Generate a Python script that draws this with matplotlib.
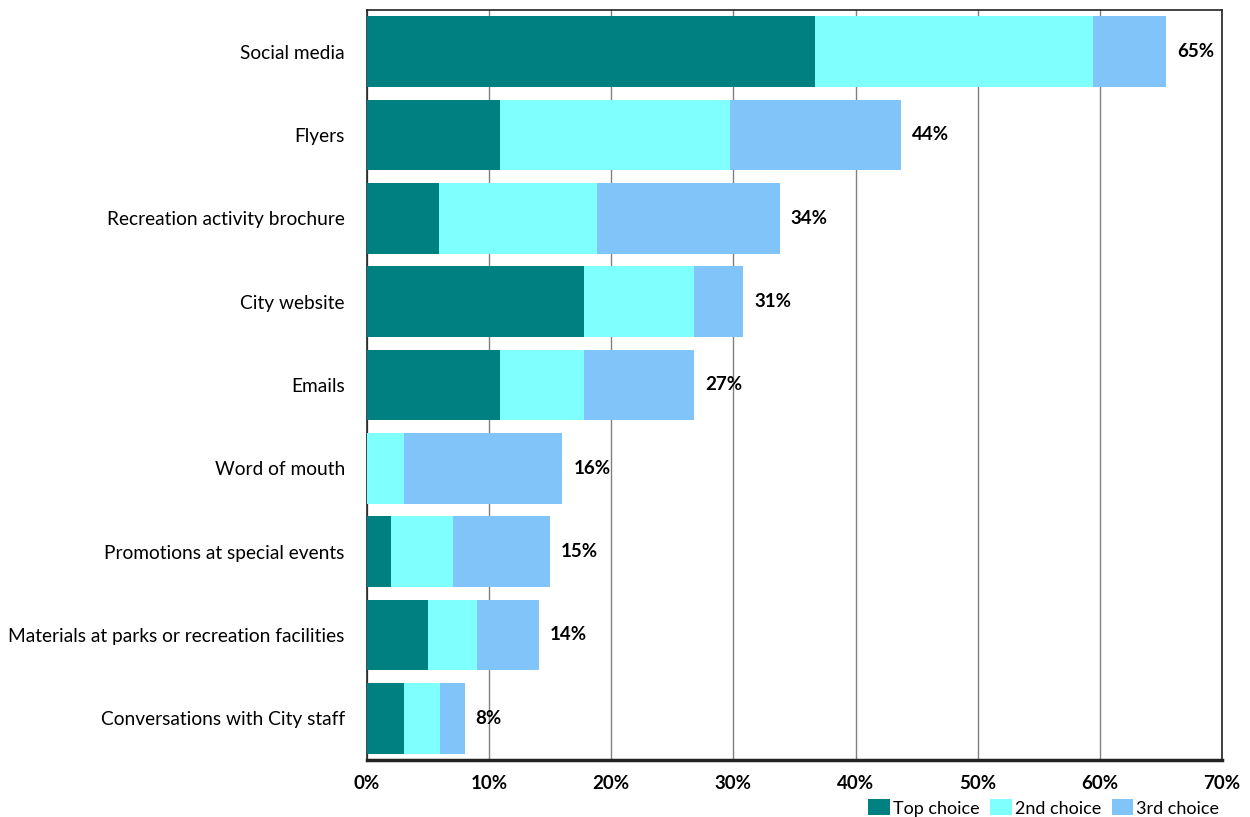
import matplotlib.pyplot as plt
import numpy as np

plt.rcParams['font.family'] = ['Lato', 'DejaVu Sans']

categories = ['Social media', 'Flyers', 'Recreation activity brochure', 'City website',
              'Emails', 'Word of mouth', 'Promotions at special events',
              'Materials at parks or recreation facilities', 'Conversations with City staff']
top_choice = [36.7, 10.9, 5.9, 17.8, 10.9, 0.0, 2.0, 5.0, 3.0]
second_choice = [22.7, 18.8, 12.9, 9.0, 6.9, 3.0, 5.0, 4.0, 3.0]
third_choice = [6.0, 14.0, 15.0, 4.0, 9.0, 13.0, 8.0, 5.1, 2.0]
series_names = ['Top choice', '2nd choice', '3rd choice']
colors = ['#008080', '#80FFFF', '#80C4FA']

fig = plt.figure(figsize=(12.5, 8.17), dpi=100)
ax = fig.add_axes([0.2936, 0.0698, 0.684, 0.9180])

y = np.arange(len(categories))
left = np.zeros(len(categories))
for vals, name, c in zip([top_choice, second_choice, third_choice], series_names, colors):
    ax.barh(y, vals, left=left, height=0.85, color=c, label=name, zorder=3)
    left += np.array(vals)

for yi, total in zip(y, left):
    ax.text(total + 0.9, yi, f'{total:.0f}%', va='center', ha='left',
            fontsize=13.5, fontweight='bold', zorder=4)

ax.set_ylim(len(categories) - 0.5, -0.5)
ax.set_xlim(0, 70)
ax.set_xticks(np.arange(0, 71, 10))
ax.set_xticklabels([f'{v}%' for v in range(0, 71, 10)], fontsize=13.5, fontweight='bold')
ax.set_yticks(y)
ax.set_yticklabels(categories, fontsize=13.8)
ax.tick_params(axis='y', length=0, pad=16)
ax.tick_params(axis='x', length=0, pad=11)
ax.grid(axis='x', color='#808080', linewidth=1, zorder=0)

for s in ['top', 'right', 'left']:
    ax.spines[s].set_linewidth(1.2)
    ax.spines[s].set_color('#222222')
ax.spines['bottom'].set_linewidth(2.5)
ax.spines['bottom'].set_color('#222222')

ax.legend(loc='lower right', bbox_to_anchor=(1.005, -0.085), ncol=3, frameon=False,
          fontsize=13, handlelength=1.2, handleheight=1.0, handletextpad=0.15,
          columnspacing=0.6, borderaxespad=0)

fig.savefig('out.png', dpi=100)
